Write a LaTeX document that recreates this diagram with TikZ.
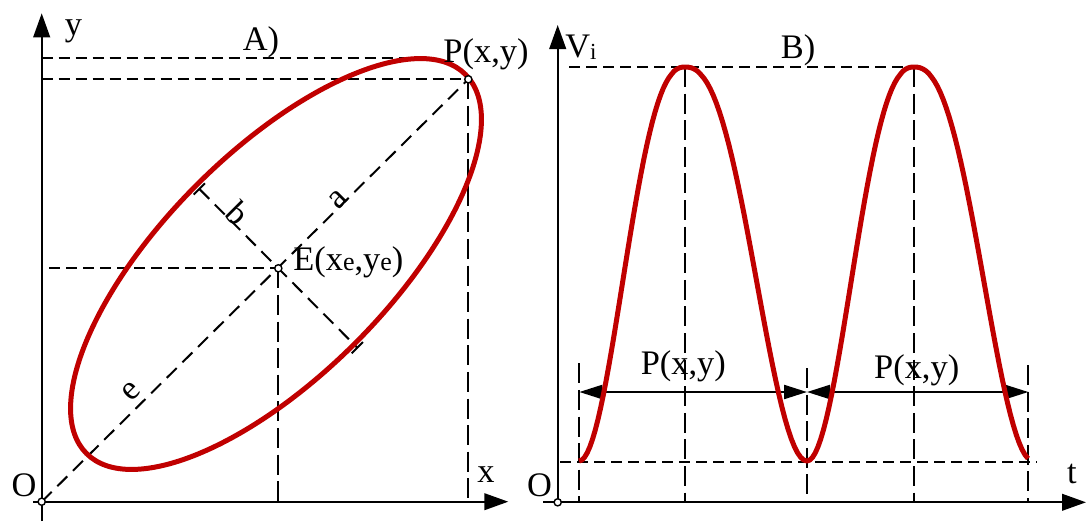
\documentclass[tikz,border=0pt]{standalone}
\usepackage{fontspec}
\setmainfont{Liberation Serif}
\usetikzlibrary{calc,arrows.meta}
\definecolor{curvered}{RGB}{192,0,0}
\newcommand{\figfont}{\fontsize{17.2}{20}\selectfont}
\newcommand{\smalle}{{\fontsize{13}{15}\selectfont e}}

\begin{document}
\begin{tikzpicture}[x=0.5pt, y=0.5pt,
  axisline/.style={line width=1.1pt, -{Triangle[length=12pt, width=8.3pt]}},
  hdash/.style={line width=1pt, dash pattern=on 5.5pt off 3pt},
  vdash/.style={line width=1pt, dash pattern=on 10pt off 3.3pt},
  ddash/.style={line width=1pt, dash pattern=on 7pt off 4pt},
  redline/.style={curvered, line width=2.5pt},
  dimarrow/.style={line width=1.1pt, {Triangle[length=11.5pt, width=7pt]}-{Triangle[length=11.5pt, width=7pt]}},
  ptmark/.style={circle, draw, fill=white, line width=0.7pt, inner sep=0pt, minimum size=3.6pt},
  lbl/.style={font=\figfont, inner sep=0pt}]
  \useasboundingbox (0,0) rectangle (1086,521);

  % A) ellipse
  \coordinate (O1) at (41.7,19.3);
  \coordinate (E) at (278.3,252.7);
  \coordinate (P) at (468.3,441.7);
  \coordinate (C) at (276,257);
  \coordinate (T) at (420,462.7);
  \coordinate (B1) at ($(E)!56pt!90:(P)$);
  \coordinate (B2) at ($(E)!56pt!-90:(P)$);

  \draw[axisline] (41.7,0) -- (41.7,507.7);
  \draw[axisline] (33.3,19.3) -- (508.3,19.3);
  \draw[hdash] (O1 |- T) -- (T);
  \draw[hdash] (O1 |- P) -- (P);
  \draw[hdash] (49,252.7) -- (E);
  \draw[vdash] (E) -- (E |- 0,14);
  \draw[vdash] (P) -- (P |- O1);
  \draw[ddash] (O1) -- (P);
  \draw[ddash] (B1) -- (B2);
  \draw[line width=1pt] ($(B1)!4pt!90:(E)$) -- ($(B1)!4pt!-90:(E)$);
  \draw[line width=1pt] ($(B2)!4pt!90:(E)$) -- ($(B2)!4pt!-90:(E)$);
  \draw[redline, rotate around={45:(C)}] (C) ellipse [x radius=268, y radius=112];

  \node[ptmark] (o1mark) at (O1) {};
  \node[ptmark] (emark) at (E) {};
  \node[ptmark] (pmark) at (P) {};

  \node[lbl] (ylab) at (73.5,489.5) {y};
  \node[lbl] (xlab) at (486,46) {x};
  \node[lbl] (o1lab) at (24,36) {O};
  \node[lbl] (alab) at (261,478.5) {A)};
  \node[lbl] (plab) at (486,467) {P(x,y)};
  \node[lbl, anchor=west] (elab) at (293,258.5) {E(x\smalle,y\smalle)};
  \node[lbl, rotate=45] (amaj) at (338,321) {a};
  \node[lbl, rotate=-45] (bmin) at (238.3,307.7) {b};
  \node[lbl, rotate=45] (emaj) at (131.7,129.3) {e};

  % B) signal
  \coordinate (O2) at (557.7,18.7);
  \coordinate (K1) at (685,454);
  \coordinate (K2) at (914,454);
  \coordinate (D0) at (579.3,129);
  \coordinate (D1) at (807,129);
  \coordinate (D2) at (1028.3,129);

  \draw[axisline] (557.7,16) -- (557.7,496);
  \draw[axisline] (543.3,18.7) -- (1086,18.7);
  \draw[hdash] (569,454) -- (K2);
  \draw[hdash] (560,59.3) -- (1036.7,59.3);
  \draw[vdash] (K1) -- (K1 |- O2);
  \draw[vdash] (K2) -- (K2 |- O2);
  \foreach \x/\y in {579.3/157.7, 807/153, 1028.3/156}
    \draw[vdash] (\x,\y) -- (\x,18.7);
  \draw[dimarrow] (D0) -- (D1);
  \draw[dimarrow] (D1) -- (D2);
  \draw[redline, line join=round]
    plot[domain=0:0.999, samples=40, variable=\s] ({579+106*\s}, {60+197*(1+cos(180*(1-\s)^1.2))})
    -- plot[domain=0.001:1, samples=40, variable=\u] ({685+122*\u}, {60+197*(1+cos(180*\u^1.2))})
    -- plot[domain=0:0.999, samples=40, variable=\s] ({807+107*\s}, {60+197*(1+cos(180*(1-\s)^1.2))})
    -- plot[domain=0.001:0.958, samples=40, variable=\u] ({914+119*\u}, {60+197*(1+cos(180*\u^1.2))});
  \node[ptmark] (o2mark) at (O2) {};

  \node[lbl] (vlab) at (581,474) {V\raisebox{-1pt}{\fontsize{11.5}{12}\selectfont i}};
  \node[lbl] (blab) at (798,471) {B)};
  \node[lbl] (o2lab) at (539.5,36) {O};
  \node[lbl] (tlab) at (1072,47) {t};
  \node[lbl] (p1lab) at (683.3,155) {P(x,y)};
  \node[lbl] (p2lab) at (916.7,151) {P(x,y)};
\end{tikzpicture}
\end{document}
